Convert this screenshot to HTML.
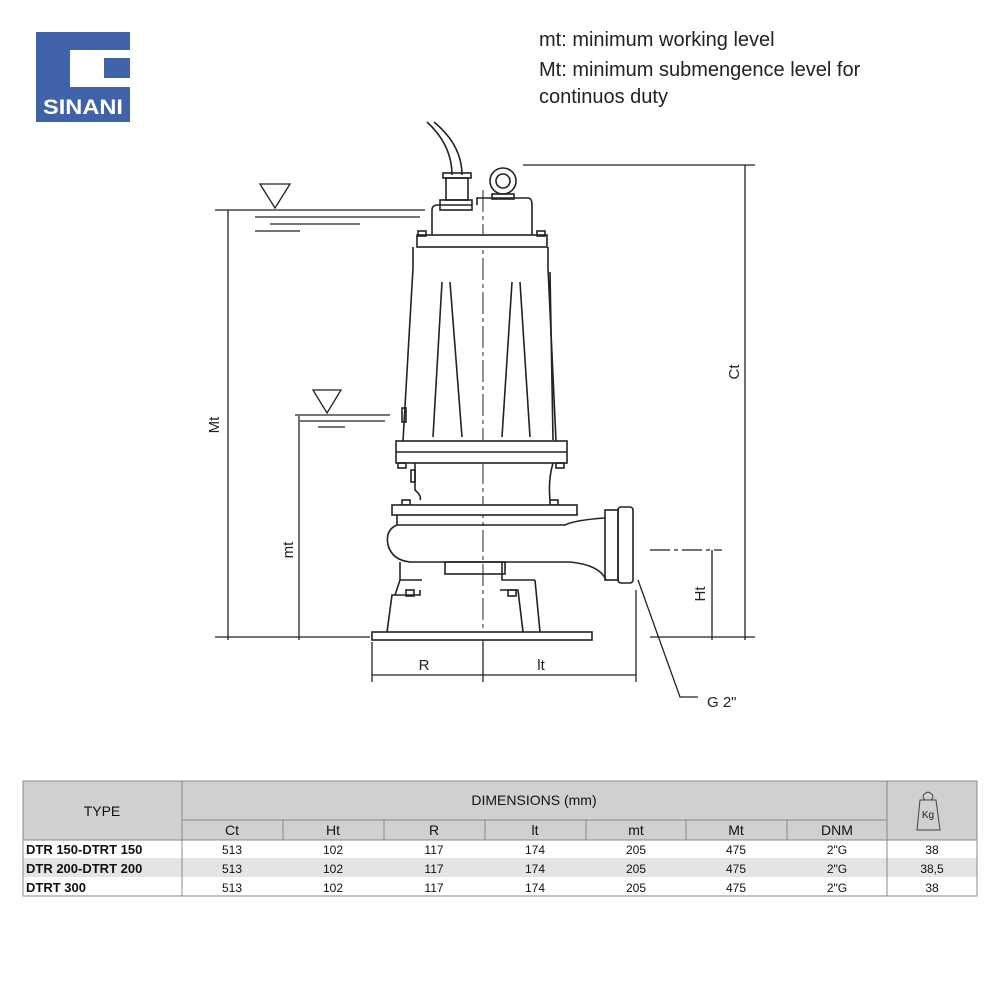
<!DOCTYPE html>
<html><head><meta charset="utf-8"><style>
body{margin:0;background:#fff;width:1000px;height:1000px;overflow:hidden;font-family:"Liberation Sans",sans-serif}
</style></head><body>
<svg width="1000" height="1000" viewBox="0 0 1000 1000" xmlns="http://www.w3.org/2000/svg" font-family="Liberation Sans, sans-serif">
<rect x="36" y="32" width="94" height="90" fill="#3f62a8"/>
<path d="M70 50 H130 V58 H104 V78 H130 V87 H70 Z" fill="#fff"/>
<text x="83" y="114" font-size="21" font-weight="bold" fill="#fff" text-anchor="middle" textLength="80" lengthAdjust="spacingAndGlyphs">SINANI</text>
<g font-size="20" fill="#222">
<text x="539" y="46">mt: minimum working level</text>
<text x="539" y="76">Mt: minimum submengence level for</text>
<text x="539" y="103">continuos duty</text>
</g>
<g stroke="#222" stroke-width="1.3" fill="none">
<line x1="215" y1="210" x2="425" y2="210"/>
<line x1="255" y1="217" x2="420" y2="217"/>
<line x1="270" y1="224" x2="360" y2="224"/>
<line x1="255" y1="231" x2="300" y2="231"/>
<path d="M260 184 H290 L275 208 Z" fill="#fff"/>
<line x1="295" y1="415" x2="390" y2="415"/>
<line x1="300" y1="421" x2="385" y2="421"/>
<line x1="318" y1="427" x2="345" y2="427"/>
<path d="M313 390 H341 L327 413 Z" fill="#fff"/>
<line x1="228" y1="210" x2="228" y2="640"/>
<line x1="299" y1="416" x2="299" y2="640"/>
<line x1="215" y1="637" x2="370" y2="637"/>
<line x1="523" y1="165" x2="755" y2="165"/>
<line x1="745" y1="165" x2="745" y2="640"/>
<line x1="650" y1="637" x2="755" y2="637"/>
<line x1="650" y1="550" x2="722" y2="550" stroke-dasharray="20 4 4 4"/>
<line x1="712" y1="550" x2="712" y2="640"/>
<line x1="372" y1="642" x2="372" y2="682"/>
<line x1="483" y1="642" x2="483" y2="682"/>
<line x1="636" y1="590" x2="636" y2="682"/>
<line x1="372" y1="675" x2="636" y2="675"/>
<polyline points="638,580 680,697 698,697"/>
<line x1="483" y1="190" x2="483" y2="660" stroke-dasharray="22 4 4 4" stroke-width="1"/>
</g>
<g stroke="#222" stroke-width="1.6" fill="none">
<path d="M427 122 Q452 145 452 175"/>
<path d="M434 122 Q462 145 462 175"/>
<rect x="443" y="173" width="28" height="5"/>
<rect x="446" y="178" width="22" height="22"/>
<rect x="440" y="200" width="32" height="10"/>
<circle cx="503" cy="181" r="13"/><circle cx="503" cy="181" r="7"/>
<rect x="492" y="194" width="22" height="5"/>
<path d="M432 235 V210 Q432 205 438 205 H472 M477 205 V198 H528 Q532 198 532 205 V235"/>
<rect x="417" y="235" width="130" height="12" fill="#fff"/>
<rect x="418" y="231" width="8" height="5"/><rect x="537" y="231" width="8" height="5"/>
<path d="M413 247 V268 L403 441 M548 247 V268 L556 441"/>
<line x1="550" y1="272" x2="553" y2="440"/>
<path d="M442 282 L433 437 M450 282 L462 437 M512 282 L502 437 M520 282 L530 437"/>
<rect x="402" y="408" width="4" height="14"/>
<rect x="396" y="441" width="171" height="22" fill="#fff"/>
<line x1="396" y1="452" x2="567" y2="452"/>
<rect x="398" y="463" width="8" height="5"/><rect x="556" y="463" width="8" height="5"/>
<path d="M415 463 V490 Q422 496 420 500 M553 463 Q548 480 550 500"/>
<rect x="411" y="470" width="4" height="12"/>
<rect x="402" y="500" width="8" height="5"/><rect x="550" y="500" width="8" height="5"/>
<rect x="392" y="505" width="185" height="10" fill="#fff"/>
<path d="M397 515 V525 Q385 530 388 545 Q392 560 410 562 H570 Q600 565 606 580 M397 525 H565 Q575 520 605 518"/>
<rect x="605" y="510" width="13" height="70"/>
<rect x="618" y="507" width="15" height="76" rx="3"/>
<rect x="445" y="562" width="60" height="12"/>
<path d="M400 562 V580 H422 M387 632 L392 595 H420 V590 M400 580 L395 595"/>
<path d="M502 562 V580 H535 M500 590 H518 L523 632 M535 580 L540 632"/>
<rect x="406" y="590" width="8" height="6"/><rect x="508" y="590" width="8" height="6"/>
<rect x="372" y="632" width="220" height="8" fill="#fff"/>
</g>
<g font-size="15" fill="#222">
<text x="424" y="670" text-anchor="middle">R</text>
<text x="541" y="670" text-anchor="middle">lt</text>
<text x="707" y="707">G 2"</text>
<text transform="translate(219 425) rotate(-90)" text-anchor="middle">Mt</text>
<text transform="translate(293 550) rotate(-90)" text-anchor="middle">mt</text>
<text transform="translate(739 372) rotate(-90)" text-anchor="middle">Ct</text>
<text transform="translate(705 594) rotate(-90)" text-anchor="middle">Ht</text>
</g>
<rect x="23" y="781" width="954" height="59" fill="#d0d0d0"/>
<rect x="23" y="858" width="954" height="19" fill="#e4e4e4"/>
<g stroke="#888" stroke-width="1" fill="none">
<rect x="23" y="781" width="954" height="115"/>
<line x1="182" y1="781" x2="182" y2="896"/>
<line x1="887" y1="781" x2="887" y2="896"/>
<line x1="182" y1="820" x2="887" y2="820"/>
<line x1="23" y1="840" x2="977" y2="840"/>
<line x1="283" y1="820" x2="283" y2="840"/><line x1="384" y1="820" x2="384" y2="840"/>
<line x1="485" y1="820" x2="485" y2="840"/><line x1="586" y1="820" x2="586" y2="840"/>
<line x1="686" y1="820" x2="686" y2="840"/><line x1="787" y1="820" x2="787" y2="840"/>
<path d="M925 800 Q920 795 928 792 Q936 795 931 800 M920 800 H936 L940 830 H917 Z" stroke="#444"/>
</g>
<text x="928" y="818" font-size="10" text-anchor="middle" fill="#222">Kg</text>
<g font-size="14" fill="#111" text-anchor="middle" font-family="Liberation Sans Narrow, Liberation Sans, sans-serif">
<text x="102" y="816">TYPE</text>
<text x="534" y="805">DIMENSIONS (mm)</text>
<text x="232" y="835">Ct</text><text x="333" y="835">Ht</text><text x="434" y="835">R</text>
<text x="535" y="835">lt</text><text x="636" y="835">mt</text><text x="736" y="835">Mt</text><text x="837" y="835">DNM</text>
</g>
<g font-size="12" fill="#111" text-anchor="middle">
<text x="232" y="854">513</text><text x="333" y="854">102</text><text x="434" y="854">117</text><text x="535" y="854">174</text><text x="636" y="854">205</text><text x="736" y="854">475</text><text x="837" y="854">2"G</text><text x="932" y="854">38</text>
<text x="232" y="873">513</text><text x="333" y="873">102</text><text x="434" y="873">117</text><text x="535" y="873">174</text><text x="636" y="873">205</text><text x="736" y="873">475</text><text x="837" y="873">2"G</text><text x="932" y="873">38,5</text>
<text x="232" y="892">513</text><text x="333" y="892">102</text><text x="434" y="892">117</text><text x="535" y="892">174</text><text x="636" y="892">205</text><text x="736" y="892">475</text><text x="837" y="892">2"G</text><text x="932" y="892">38</text>
</g>
<g font-size="13" font-weight="bold" fill="#111" font-family="Liberation Sans Narrow, Liberation Sans, sans-serif">
<text x="26" y="854">DTR 150-DTRT 150</text>
<text x="26" y="873">DTR 200-DTRT 200</text>
<text x="26" y="892">DTRT 300</text>
</g>
</svg>
</body></html>
